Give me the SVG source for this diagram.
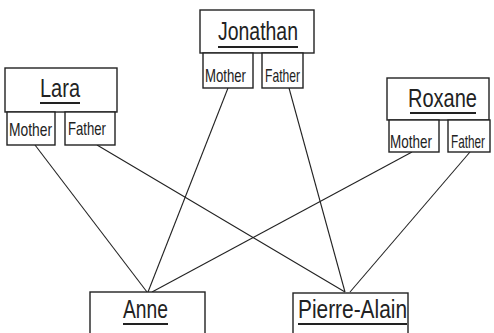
<svg xmlns="http://www.w3.org/2000/svg" width="494" height="333" viewBox="0 0 494 333">
  <style>
    .box { fill: #fff; stroke: #222; stroke-width: 1.4; }
    .name { font-family: "Liberation Sans", Arial, sans-serif; font-size: 25px; fill: #222; }
    .role { font-family: "Liberation Sans", Arial, sans-serif; font-size: 19px; fill: #222; }
    .ul { stroke: #222; stroke-width: 1.8; }
    .link { stroke: #222; stroke-width: 1.1; fill: none; }
  </style>
  <rect width="494" height="333" fill="#fff"/>

  <g id="connectors">
    <line class="link" x1="35" y1="145" x2="147" y2="292"/>
    <line class="link" x1="97" y1="145" x2="345" y2="292"/>
    <line class="link" x1="228" y1="88" x2="148" y2="292"/>
    <line class="link" x1="289" y1="88" x2="345" y2="292"/>
    <line class="link" x1="412" y1="152" x2="152" y2="292"/>
    <line class="link" x1="470" y1="152" x2="350" y2="292"/>
  </g>

  <g id="jonathan">
    <rect class="box" x="200" y="10" width="114" height="43"/>
    <text class="name" x="218" y="40" textLength="80" lengthAdjust="spacingAndGlyphs">Jonathan</text>
    <line class="ul" x1="218" y1="47" x2="298" y2="47"/>
    <rect class="box" x="203" y="53" width="50" height="35"/>
    <text class="role" x="205" y="82" textLength="41" lengthAdjust="spacingAndGlyphs">Mother</text>
    <rect class="box" x="262" y="53" width="41" height="35"/>
    <text class="role" x="265" y="82" textLength="35" lengthAdjust="spacingAndGlyphs">Father</text>
  </g>

  <g id="lara">
    <rect class="box" x="5" y="68" width="112" height="44"/>
    <text class="name" x="40" y="97" textLength="40" lengthAdjust="spacingAndGlyphs">Lara</text>
    <line class="ul" x1="40" y1="103" x2="80" y2="103"/>
    <rect class="box" x="7" y="112" width="48" height="33"/>
    <text class="role" x="9" y="136" textLength="43" lengthAdjust="spacingAndGlyphs">Mother</text>
    <rect class="box" x="65" y="112" width="50" height="33"/>
    <text class="role" x="68" y="135" textLength="38" lengthAdjust="spacingAndGlyphs">Father</text>
  </g>

  <g id="roxane">
    <rect class="box" x="387" y="78" width="102" height="42"/>
    <text class="name" x="408" y="107" textLength="69" lengthAdjust="spacingAndGlyphs">Roxane</text>
    <line class="ul" x1="410" y1="113" x2="476" y2="113"/>
    <rect class="box" x="389" y="120" width="50" height="32"/>
    <text class="role" x="390" y="148" textLength="42" lengthAdjust="spacingAndGlyphs">Mother</text>
    <rect class="box" x="448" y="120" width="42" height="32"/>
    <text class="role" x="451" y="148" textLength="34" lengthAdjust="spacingAndGlyphs">Father</text>
  </g>

  <g id="anne">
    <rect class="box" x="90" y="292" width="115" height="50"/>
    <text class="name" x="123" y="318" textLength="45" lengthAdjust="spacingAndGlyphs">Anne</text>
    <line class="ul" x1="123" y1="324" x2="168" y2="324"/>
  </g>

  <g id="pierre-alain">
    <rect class="box" x="293" y="293" width="115" height="50"/>
    <text class="name" x="298" y="318" textLength="109" lengthAdjust="spacingAndGlyphs">Pierre-Alain</text>
    <line class="ul" x1="298" y1="324" x2="407" y2="324"/>
  </g>
</svg>
